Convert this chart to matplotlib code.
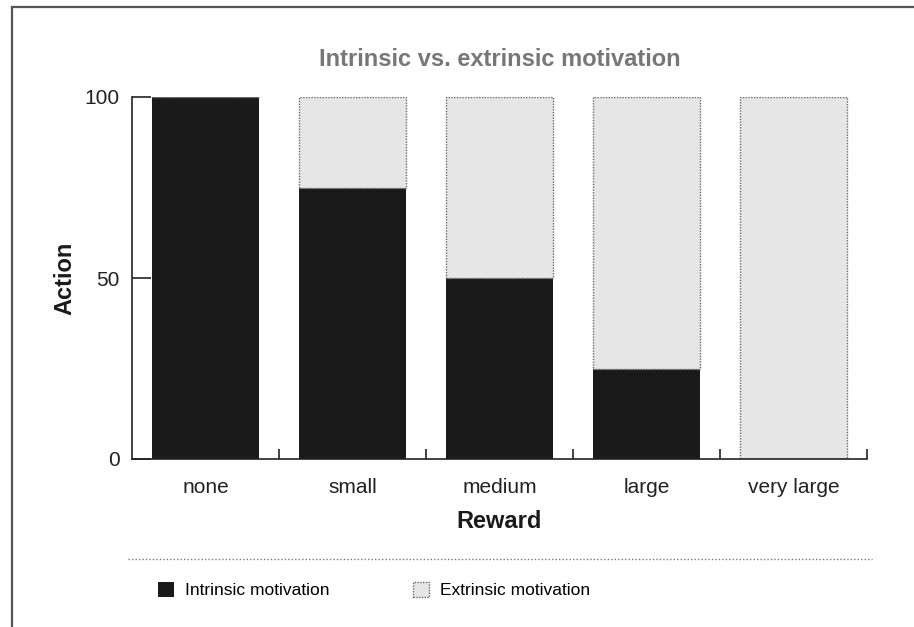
import numpy as np
import matplotlib.pyplot as plt
from matplotlib.lines import Line2D

plt.rcParams['font.family'] = ['Liberation Sans', 'DejaVu Sans']

rewards = ["none", "small", "medium", "large", "very large"]
intrinsic = [100, 75, 50, 25, 0]
extrinsic = [0, 25, 50, 75, 100]

W, H = 914, 627
fig = plt.figure(figsize=(W / 100, H / 100), dpi=100)
ax = fig.add_axes([132 / W, 1 - 459 / H, (867 - 132) / W, (459 - 97) / H])

x = np.arange(len(rewards))
bw = 0.73
b1 = ax.bar(x, intrinsic, bw, color="#1a1a1a", linewidth=0, label="Intrinsic motivation")
b2 = ax.bar(x, extrinsic, bw, bottom=intrinsic, color="#e6e6e6", edgecolor="#666666",
            linewidth=1.0, linestyle=(0, (1, 1)), label="Extrinsic motivation")

ax.set_xlim(-0.5, 4.5)
ax.set_ylim(0, 100)
ax.spines["top"].set_visible(False)
ax.spines["right"].set_visible(False)
for s in ("left", "bottom"):
    ax.spines[s].set_linewidth(1.2)
    ax.spines[s].set_color("#222222")

ax.set_yticks([0, 50, 100])
ax.tick_params(axis="y", direction="in", length=14, width=1.2, color="#222222",
               labelsize=15, labelcolor="#222222", pad=9)
ax.set_xticks(x)
ax.set_xticklabels(rewards)
ax.set_xticks(x + 0.5, minor=True)
ax.tick_params(axis="x", which="major", length=0, labelsize=15, labelcolor="#222222", pad=14)
ax.tick_params(axis="x", which="minor", direction="in", length=7, width=1.2, color="#222222")

ax.set_xlabel("Reward", fontsize=17, fontweight="bold", color="#1a1a1a", labelpad=9)
ax.set_ylabel("Action", fontsize=17, fontweight="bold", color="#1a1a1a", labelpad=6)
ax.set_title("Intrinsic vs. extrinsic motivation", fontsize=17, fontweight="bold",
             color="#777777", pad=22)

# dotted separator above the legend
fig.add_artist(Line2D([128 / W, 872 / W], [1 - 559 / H] * 2, color="#777777",
                      linewidth=1.0, linestyle=(0, (1, 1.5))))

fig.legend(handles=[b1, b2], loc="center left", bbox_to_anchor=(158 / W, 1 - 590 / H),
           ncol=2, frameon=False, fontsize=12.5, handlelength=0.95, handleheight=0.95,
           handletextpad=0.6, columnspacing=4.8, borderpad=0, borderaxespad=0)

# frame lines along the top and left edge
fig.add_artist(Line2D([11.5 / W, 1], [1 - 6.5 / H] * 2, color="#555555", linewidth=1.6))
fig.add_artist(Line2D([11.5 / W] * 2, [0, 1 - 6.5 / H], color="#555555", linewidth=1.6))

fig.savefig("out.png", dpi=100)
